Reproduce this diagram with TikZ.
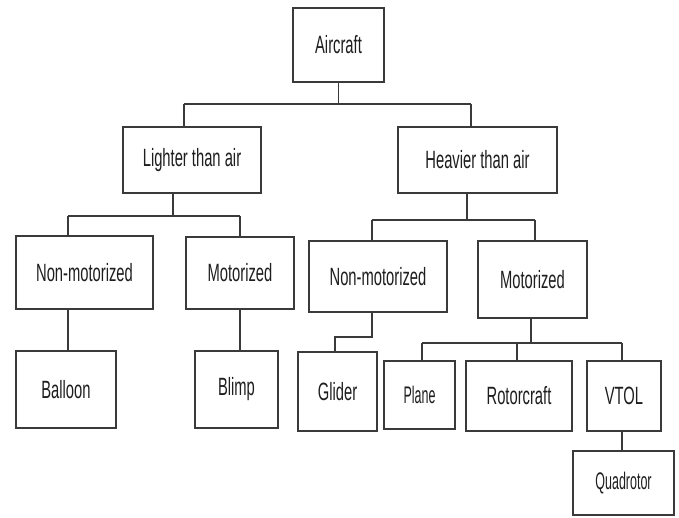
\documentclass[tikz,border=0pt]{standalone}
\usepackage{fontspec}
\setmainfont{Liberation Sans}[FakeStretch=0.59]
\newfontfamily\narrowerfont{Liberation Sans}[FakeStretch=0.52]
\definecolor{linec}{HTML}{3A3A3A}
\definecolor{textc}{HTML}{1E1E1E}
\begin{document}
\begin{tikzpicture}[x=1pt,y=-1pt,
  box/.style={draw=linec, line width=2pt, fill=white, inner sep=0pt, text=textc,
    font=\fontsize{25}{25}\selectfont},
  smallbox/.style={box, font=\narrowerfont\fontsize{24}{24}\selectfont},
  conn/.style={draw=linec, line width=1.6pt}]
\useasboundingbox[fill=white] (0,0) rectangle (679,517);
% nodes
\node[box, minimum width=91pt, minimum height=74pt] (aircraft) at (338.5,45) {Aircraft};
\node[box, minimum width=138pt, minimum height=66pt] (lighter) at (192,160) {Lighter than air};
\node[box, minimum width=159pt, minimum height=66pt] (heavier) at (477.5,160) {Heavier than air};
\node[box, minimum width=137pt, minimum height=73pt] (nmL) at (84.5,272.5) {Non-motorized};
\node[box, minimum width=108pt, minimum height=72pt] (mL) at (240,273) {Motorized};
\node[box, minimum width=100pt, minimum height=77pt] (balloon) at (66,389.5) {Balloon};
\node[box, minimum width=83pt, minimum height=77pt] (blimp) at (236.5,389.5) {Blimp};
\node[box, minimum width=138pt, minimum height=71pt] (nmR) at (378,276.5) {Non-motorized};
\node[box, minimum width=109pt, minimum height=77pt] (mR) at (532.5,279.5) {Motorized};
\node[box, minimum width=79pt, minimum height=79pt] (glider) at (337.5,391.5) {Glider};
\node[smallbox, minimum width=71pt, minimum height=68pt] (plane) at (419.5,395) {Plane};
\node[box, minimum width=106pt, minimum height=70pt] (rotor) at (519,396) {Rotorcraft};
\node[box, minimum width=74pt, minimum height=70pt] (vtol) at (624,396) {VTOL};
\node[smallbox, minimum width=101pt, minimum height=64pt] (quad) at (623.5,483) {Quadrotor};
% bus coordinates
\coordinate (b1L) at (184,104);
\coordinate (b1R) at (471,104);
\coordinate (b2L) at (68,216);
\coordinate (b2R) at (240,216);
\coordinate (s2) at (173,216);
\coordinate (b3L) at (372,220);
\coordinate (b3R) at (535,220);
\coordinate (s3) at (467,220);
\coordinate (g1) at (372,337);
\coordinate (g2) at (335,337);
\coordinate (b4L) at (422,343);
\coordinate (b4M) at (517,343);
\coordinate (b4R) at (622,343);
\coordinate (s4) at (531,343);
% connectors level 1
\draw[conn] (aircraft.south) -- (aircraft.south |- b1L);
\draw[conn] (b1L) -- (b1R);
\draw[conn] (b1L) -- (b1L |- lighter.north);
\draw[conn] (b1R) -- (b1R |- heavier.north);
% lighter
\draw[conn] (s2 |- lighter.south) -- (s2);
\draw[conn] (b2L) -- (b2R);
\draw[conn] (b2L) -- (b2L |- nmL.north);
\draw[conn] (b2R) -- (b2R |- mL.north);
\draw[conn] (b2L |- nmL.south) -- (b2L |- balloon.north);
\draw[conn] (b2R |- mL.south) -- (b2R |- blimp.north);
% heavier
\draw[conn] (s3 |- heavier.south) -- (s3);
\draw[conn] (b3L) -- (b3R);
\draw[conn] (b3L) -- (b3L |- nmR.north);
\draw[conn] (b3R) -- (b3R |- mR.north);
\draw[conn] (g1 |- nmR.south) -- (g1) -- (g2) -- (g2 |- glider.north);
\draw[conn] (s4 |- mR.south) -- (s4);
\draw[conn] (b4L) -- (b4R);
\draw[conn] (b4L) -- (b4L |- plane.north);
\draw[conn] (b4M) -- (b4M |- rotor.north);
\draw[conn] (b4R) -- (b4R |- vtol.north);
\draw[conn] (b4R |- vtol.south) -- (b4R |- quad.north);
\end{tikzpicture}
\end{document}
